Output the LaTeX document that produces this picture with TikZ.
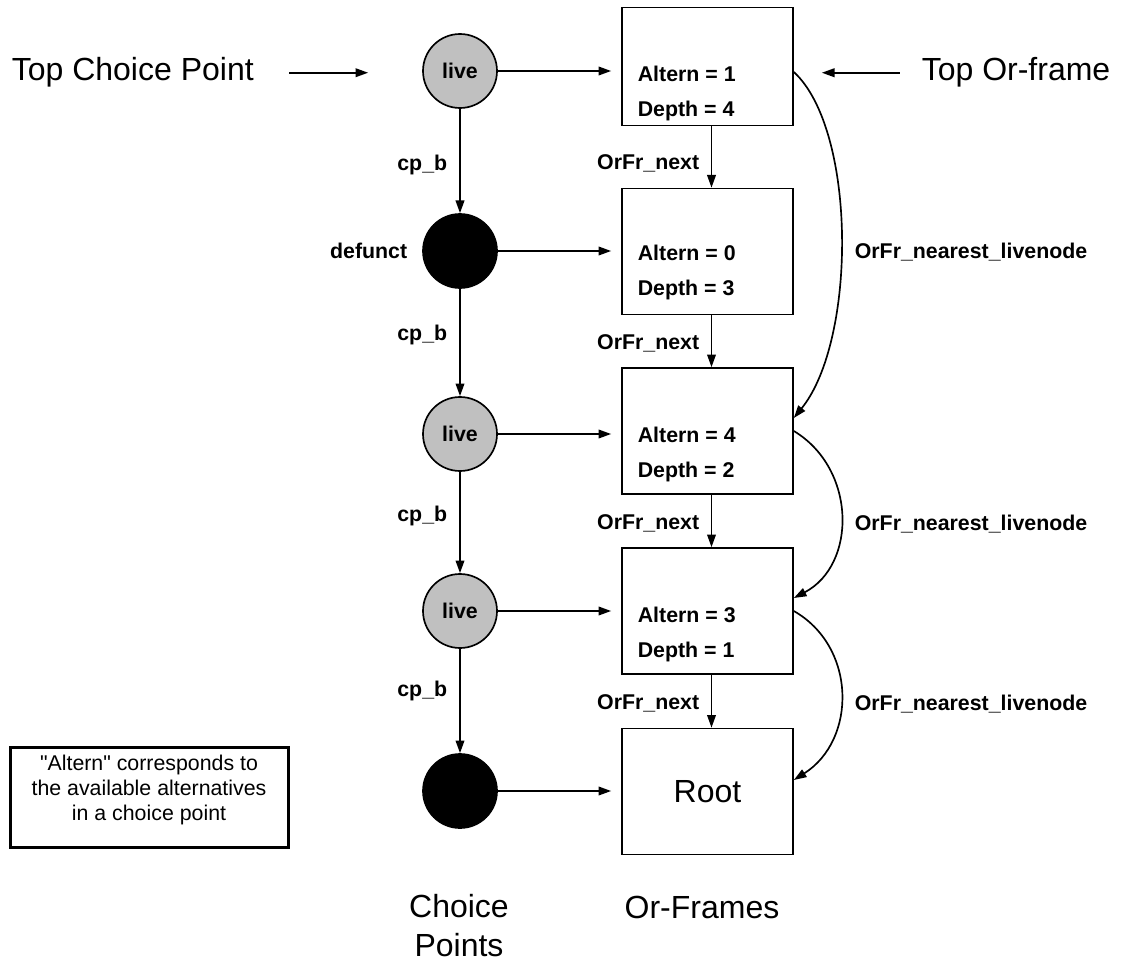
\documentclass[tikz,border=0pt]{standalone}
\usepackage{fontspec}
\setmainfont{Liberation Sans}
\usetikzlibrary{arrows.meta,calc}
\definecolor{livegray}{RGB}{192,192,192}
\begin{document}
\begin{tikzpicture}[x=0.75pt,y=-0.75pt,
  line width=1.25pt,
  tip/.style={-{Triangle[length=9.5pt,width=6.5pt]}},
  frame/.style={draw, minimum width=128.25pt, minimum height=94.5pt, inner sep=0pt},
  cpnode/.style={circle, draw, minimum size=55.5pt, inner sep=0pt,
    font=\fontsize{16}{19}\selectfont\bfseries},
  livecp/.style={cpnode, fill=livegray},
  deadcp/.style={cpnode, fill=black},
  lbl/.style={font=\fontsize{16}{19}\selectfont\bfseries, inner sep=0pt},
  big/.style={font=\fontsize{24}{29.25}\selectfont, inner sep=0pt},
  notefont/.style={font=\fontsize{16}{18.4}\selectfont\addfontfeatures{Ligatures=TeXOff},
    inner sep=0pt, align=center},
  ]
\useasboundingbox (0,0) rectangle (1125,963);

% choice points
\node[livecp] (c1) at (460,71)  {live};
\node[deadcp] (c2) at (460,251) {};
\node[livecp] (c3) at (460,434) {live};
\node[livecp] (c4) at (460,611) {live};
\node[deadcp] (c5) at (460,791) {};

% or-frames
\node[frame, minimum height=88.5pt] (b1) at (707.5,66.5) {};
\node[frame] (b2) at (707.5,251.5) {};
\node[frame] (b3) at (707.5,431) {};
\node[frame] (b4) at (707.5,611) {};
\node[frame, font=\fontsize{24}{29}\selectfont] (b5) at (707.5,791.5) {Root};

% frame contents
\node[lbl, anchor=base west] (a1) at (637,82)  {Altern = 1};
\node[lbl, anchor=base west] (d1) at (637,117) {Depth = 4};
\node[lbl, anchor=base west] (a2) at (637,261) {Altern = 0};
\node[lbl, anchor=base west] (d2) at (637,296) {Depth = 3};
\node[lbl, anchor=base west] (a3) at (637,442) {Altern = 4};
\node[lbl, anchor=base west] (d3) at (637,477) {Depth = 2};
\node[lbl, anchor=base west] (a4) at (637,622) {Altern = 3};
\node[lbl, anchor=base west] (d4) at (637,657) {Depth = 1};

% choice point -> or-frame
\foreach \c/\b in {c1/b1,c2/b2,c3/b3,c4/b4,c5/b5}
  \draw[tip, shorten >=7.5pt] (\c.east) -- (\c.east -| \b.west);

% cp_b chain
\foreach \p/\q in {c1/c2,c2/c3,c3/c4,c4/c5}
  \draw[tip] (\p) -- (\q);
\node[lbl, anchor=east] (l1) at (448,165) {cp\_b};
\node[lbl, anchor=east] (l2) at (448,335) {cp\_b};
\node[lbl, anchor=east] (l3) at (448,516) {cp\_b};
\node[lbl, anchor=east] (l4) at (448,691) {cp\_b};
\node[lbl, anchor=east] (df) at (408,251) {defunct};

% OrFr_next chain
\foreach \p/\q in {b1/b2,b2/b3,b3/b4,b4/b5}
  \draw[tip] ([xshift=3pt]\p.south) -- ([xshift=3pt]\q.north);
\node[lbl, anchor=east] (n1) at (700,163) {OrFr\_next};
\node[lbl, anchor=east] (n2) at (700,343) {OrFr\_next};
\node[lbl, anchor=east] (n3) at (700,523) {OrFr\_next};
\node[lbl, anchor=east] (n4) at (700,703) {OrFr\_next};

% OrFr_nearest_livenode links
\draw[tip] ($(b1.east)+(0,5.5)$) .. controls +(63,58) and +(63,-78) .. ($(b3.east)+(0,-13)$);
\draw[tip] (b3.east) .. controls +(63,38) and +(63,-33) .. ($(b4.east)+(0,-13)$);
\draw[tip] (b4.east) .. controls +(63,36) and +(63,-40) .. ($(b5.east)+(0,-11.5)$);
\node[lbl, anchor=west] (r1) at (854,252) {OrFr\_nearest\_livenode};
\node[lbl, anchor=west] (r2) at (854,524) {OrFr\_nearest\_livenode};
\node[lbl, anchor=west] (r3) at (854,704) {OrFr\_nearest\_livenode};

% top pointers
\node[big, anchor=base west] (tcp) at (11,81) {Top Choice Point};
\draw[tip, shorten <=26pt, shorten >=40.5pt] (tcp.east) -- (tcp.east -| c1.west);
\node[big, anchor=base west] (tof) at (921,81) {Top Or-frame};
\draw[tip, shorten <=16pt, shorten >=21pt] (tof.west) -- (tof.west -| b1.east);

% column captions
\node[big, align=center] (cpcap) at (459,926) {Choice\\Points};
\node[big, anchor=base] (ofcap) at (702,918) {Or-Frames};

% note
\node[draw, line width=2.25pt, minimum width=208.5pt, minimum height=75pt] (note) at (149,797) {};
\node[notefont] (notetxt) at (149,790) {"Altern" corresponds to\\the available alternatives\\in a choice point};
\end{tikzpicture}
\end{document}
